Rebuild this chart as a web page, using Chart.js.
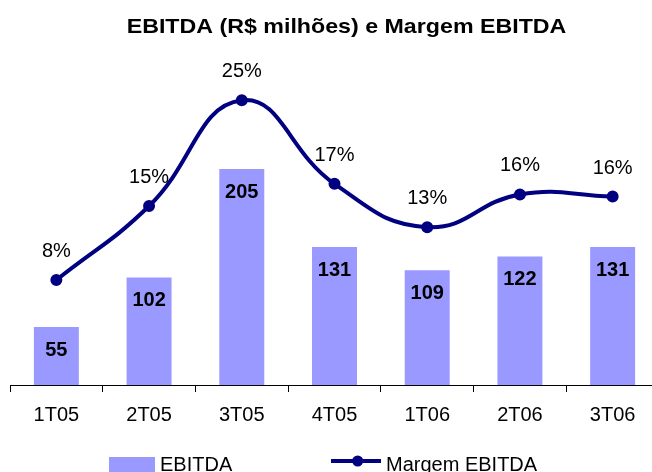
<!DOCTYPE html>
<html>
<head>
<meta charset="utf-8">
<script src="https://cdn.jsdelivr.net/npm/chart.js@4/dist/chart.umd.min.js"></script>
<style>
  body { margin: 0; overflow: hidden; background: #fff; }
  #wrap { width: 683px; height: 472px; }
</style>
</head>
<body>
<div id="wrap"><canvas id="ebitda-chart" width="683" height="472"></canvas></div>
<script>
const quarters = ["1T05", "2T05", "3T05", "4T05", "1T06", "2T06", "3T06"];
const ebitda = [55, 102, 205, 131, 109, 122, 131];
const margem = [8.0, 15.0, 25.0, 17.1, 13.0, 16.1, 15.9];
const chartTitle = "EBITDA (R$ milhões) e Margem EBITDA";

const FONT = "'Liberation Sans', Arial, sans-serif";
const BAR_COLOR = "#9999FF";
const LINE_COLOR = "#000080";

// title, value labels and legend drawn on top of the chart
const labelsPlugin = {
  id: "labels",
  afterDraw: (chart) => {
    const ctx = chart.ctx;
    ctx.save();
    ctx.fillStyle = "#000";
    ctx.textAlign = "center";
    ctx.textBaseline = "alphabetic";

    // title is a little wider than its height suggests in the original
    ctx.save();
    ctx.font = `bold 21px ${FONT}`;
    ctx.translate(346.5, 33.3);
    ctx.scale(1.105, 1);
    ctx.fillText(chartTitle, 0, 0);
    ctx.restore();

    // bar values, bold, inside the top of the bar
    ctx.font = `bold 20px ${FONT}`;
    chart.getDatasetMeta(0).data.forEach((bar, i) => {
      ctx.fillText(String(ebitda[i]), bar.x, bar.y + 28.7);
    });

    // margin values above the points
    ctx.font = `20px ${FONT}`;
    chart.getDatasetMeta(1).data.forEach((pt, i) => {
      ctx.fillText(`${Math.round(margem[i])}%`, pt.x, pt.y - 23);
    });

    // legend
    ctx.textAlign = "left";
    ctx.fillStyle = BAR_COLOR;
    ctx.fillRect(109, 457, 46, 16);
    ctx.fillStyle = "#000";
    ctx.fillText(chart.data.datasets[0].label, 160, 471);

    ctx.strokeStyle = LINE_COLOR;
    ctx.lineWidth = 4;
    ctx.beginPath();
    ctx.moveTo(331, 461);
    ctx.lineTo(381, 461);
    ctx.stroke();
    ctx.fillStyle = LINE_COLOR;
    ctx.beginPath();
    ctx.arc(357.7, 461, 5.5, 0, Math.PI * 2);
    ctx.fill();
    ctx.fillStyle = "#000";
    ctx.fillText(chart.data.datasets[1].label, 386, 470.5);
    ctx.restore();
  },
};

const chart = new Chart(document.getElementById("ebitda-chart"), {
  type: "bar",
  data: {
    labels: quarters,
    datasets: [
      {
        type: "bar",
        label: "EBITDA",
        data: ebitda,
        backgroundColor: BAR_COLOR,
        borderWidth: 0,
        categoryPercentage: 1,
        barPercentage: 0.485,
        yAxisID: "y",
        order: 2,
      },
      {
        type: "line",
        label: "Margem EBITDA",
        data: margem,
        borderColor: LINE_COLOR,
        backgroundColor: LINE_COLOR,
        borderWidth: 4,
        tension: 0.45,
        pointRadius: 5,
        pointBorderWidth: 2,
        pointBackgroundColor: LINE_COLOR,
        pointBorderColor: LINE_COLOR,
        yAxisID: "y2",
        order: 1,
        clip: false,
      },
    ],
  },
  options: {
    responsive: false,
    devicePixelRatio: 1,
    animation: false,
    layout: {
      padding: { left: 10, right: 24, top: 40, bottom: 0 },
    },
    plugins: {
      legend: { display: false },
      title: { display: false },
      tooltip: { enabled: false },
    },
    scales: {
      x: {
        offset: true,
        grid: {
          offset: true,
          drawOnChartArea: false,
          drawTicks: true,
          tickLength: 7,
          color: "#000",
        },
        border: { display: true, color: "#000", width: 1 },
        ticks: {
          color: "#000",
          padding: 11,
          maxRotation: 0,
          font: { family: FONT, size: 20 },
        },
        afterFit: (scale) => {
          scale.height = 87;
        },
      },
      y: {
        display: false,
        min: 0,
        max: 327.5,
      },
      y2: {
        display: false,
        min: -1.93,
        max: 30.71,
      },
    },
  },
  plugins: [labelsPlugin],
});
</script>
</body>
</html>
